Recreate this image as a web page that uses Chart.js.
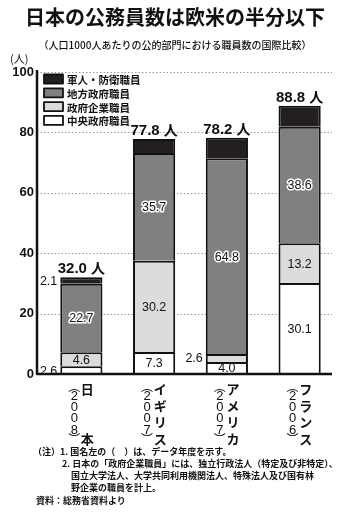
<!DOCTYPE html>
<html lang="ja">
<head>
<meta charset="utf-8">
<script src="https://cdn.jsdelivr.net/npm/chart.js@4.4.1/dist/chart.umd.min.js"></script>
<style>
body { margin: 0; background: #fff; }
#wrap { position: relative; width: 350px; height: 512px; overflow: hidden; }
canvas { position: absolute; left: 0; top: 0; }
.t { position: absolute; white-space: nowrap; font-family: "Noto Sans CJK JP", sans-serif; color: #111; }
#title { left: 0; width: 350px; top: 3px; text-align: center; font-size: 20px; font-weight: bold; line-height: 28px; }
#sub { left: 0; width: 350px; top: 38px; text-align: center; font-size: 10px; line-height: 14px; font-weight: 500; }
#unit { left: 10px; top: 50px; font-size: 11px; }
#notes { left: 33px; top: 446px; font-size: 9px; line-height: 12px; font-weight: bold; }
#notes div { white-space: nowrap; }
</style>
</head>
<body>
<div id="wrap">
  <canvas id="chart" width="350" height="512"></canvas>
  <div class="t" id="title">日本の公務員数は欧米の半分以下</div>
  <div class="t" id="sub">（人口1000人あたりの公的部門における職員数の国際比較）</div>
  <div class="t" id="unit">(人)</div>
  <div class="t" id="notes">
    <div>（注）1. 国名左の（　）は、データ年度を示す。</div>
    <div style="padding-left:29px">2. 日本の「政府企業職員」には、独立行政法人（特定及び非特定）、</div>
    <div style="padding-left:38px">国立大学法人、大学共同利用機関法人、特殊法人及び国有林</div>
    <div style="padding-left:38px">野企業の職員を計上。</div>
    <div style="padding-left:3px;margin-top:1px">資料：総務省資料より</div>
  </div>
</div>
<script>
// データ
const countries = ["日本", "イギリス", "アメリカ", "フランス"];
const years = ["2008", "2007", "2007", "2006"];
const central = [2.6, 7.3, 4.0, 30.1];
const enterprise = [4.6, 30.2, 2.6, 13.2];
const local = [22.7, 35.7, 64.8, 38.6];
const military = [2.1, 4.6, 6.8, 6.9];
const totals = [32.0, 77.8, 78.2, 88.8];
const yTicks = [0, 20, 40, 60, 80, 100];

// 数値ラベルの位置 (in = 棒の中, left = 棒の左)
const labelPos = {
    central: ["left", "in", "in", "in"],
    enterprise: ["in", "in", "left", "in"],
    local: ["in", "in", "in", "in"],
    military: ["left", null, null, null],
};

const AX_L = 37, AX_R = 332;

const extras = {
    id: "extras",
    beforeDatasetsDraw(chart) {
        const { ctx, scales: { y } } = chart;
        ctx.save();
        ctx.strokeStyle = "#9a9a9a";
        ctx.lineWidth = 1;
        ctx.setLineDash([1.5, 2]);
        yTicks.forEach(function (v) {
            if (v === 0) return;
            const py = Math.round(y.getPixelForValue(v)) + 0.5;
            ctx.beginPath();
            ctx.moveTo(AX_L, py);
            ctx.lineTo(AX_R, py);
            ctx.stroke();
        });
        ctx.restore();
    },
    afterDatasetsDraw(chart) {
        const { ctx, scales: { x, y } } = chart;
        ctx.save();

        // 数値ラベル
        chart.data.datasets.forEach(function (ds, di) {
            const meta = chart.getDatasetMeta(di);
            const pos = labelPos[ds.key];
            meta.data.forEach(function (bar, i) {
                if (!pos[i]) return;
                const txt = ds.data[i].toFixed(1);
                const cy = (bar.y + bar.base) / 2 + 1;
                ctx.font = '12.5px "Liberation Sans Narrow", "Liberation Sans", sans-serif';
                ctx.textBaseline = "middle";
                let tx = bar.x;
                if (pos[i] === "left") {
                    ctx.textAlign = "right";
                    tx = bar.x - bar.width / 2 - 3;
                } else {
                    ctx.textAlign = "center";
                }
                if (ds.key === "local") {
                    ctx.lineWidth = 3;
                    ctx.strokeStyle = "#fff";
                    ctx.lineJoin = "round";
                    ctx.strokeText(txt, tx, cy);
                }
                ctx.fillStyle = "#111";
                ctx.fillText(txt, tx, cy);
            });
        });

        // 合計
        ctx.textBaseline = "alphabetic";
        totals.forEach(function (t, i) {
            const px = x.getPixelForValue(i);
            const py = y.getPixelForValue(t) - 4;
            ctx.fillStyle = "#111";
            ctx.font = 'bold 15px "Liberation Sans", sans-serif';
            const num = t.toFixed(1);
            const wNum = ctx.measureText(num + " ").width;
            ctx.font = 'bold 14px "Noto Sans CJK JP", sans-serif';
            const wJin = ctx.measureText("人").width;
            const start = px - (wNum + wJin) / 2;
            ctx.textAlign = "left";
            ctx.font = 'bold 15px "Liberation Sans", sans-serif';
            ctx.fillText(num, start, py);
            ctx.font = 'bold 14px "Noto Sans CJK JP", sans-serif';
            ctx.fillText("人", start + wNum, py);
        });

        // 軸
        const y0 = Math.round(y.getPixelForValue(0));
        const yTop = Math.round(y.getPixelForValue(100));
        ctx.strokeStyle = "#111";
        ctx.lineWidth = 2.5;
        ctx.beginPath();
        ctx.moveTo(AX_L, yTop - 2);
        ctx.lineTo(AX_L, y0);
        ctx.lineTo(AX_R, y0);
        ctx.stroke();

        // 凡例
        const items = chart.data.datasets.slice().reverse();
        items.forEach(function (ds, i) {
            const cy = 79 + i * 13.8;
            ctx.fillStyle = ds.backgroundColor;
            ctx.fillRect(44, cy - 4.5, 19, 9);
            ctx.lineWidth = 1.8;
            ctx.strokeStyle = "#111";
            ctx.strokeRect(44, cy - 4.5, 19, 9);
            ctx.fillStyle = "#111";
            ctx.font = 'bold 10.5px "Noto Sans CJK JP", sans-serif';
            ctx.textAlign = "left";
            ctx.textBaseline = "middle";
            ctx.fillText(ds.label, 67, cy + 1);
        });

        // 国名 (縦書き)
        countries.forEach(function (name, i) {
            const px = x.getPixelForValue(i);
            ctx.fillStyle = "#111";
            ctx.textAlign = "center";
            ctx.textBaseline = "middle";
            const yearCol = ["︵"].concat(years[i].split("")).concat(["︶"]);
            yearCol.forEach(function (ch, k) {
                let cy;
                if (k === 0) cy = 386;
                else if (k === yearCol.length - 1) cy = 439;
                else cy = 396 + (k - 1) * 11.4;
                ctx.font = (k === 0 || k === yearCol.length - 1)
                    ? '12px "Noto Sans CJK JP", sans-serif'
                    : '13px "Liberation Sans", sans-serif';
                ctx.fillText(ch, px - 7, cy);
            });
            const chars = name.split("");
            ctx.font = 'bold 13px "Noto Sans CJK JP", sans-serif';
            chars.forEach(function (ch, k) {
                const cy = 389 + k * (50 / (chars.length - 1));
                ctx.fillText(ch, px + 6, cy);
            });
        });

        ctx.restore();
    },
};

new Chart(document.getElementById("chart").getContext("2d"), {
    type: "bar",
    data: {
        labels: countries,
        datasets: [
            { key: "central", label: "中央政府職員", data: central, backgroundColor: "#ffffff" },
            { key: "enterprise", label: "政府企業職員", data: enterprise, backgroundColor: "#dcdcdc" },
            { key: "local", label: "地方政府職員", data: local, backgroundColor: "#808080" },
            { key: "military", label: "軍人・防衛職員", data: military, backgroundColor: "#231f20" },
        ].map(function (d) {
            return Object.assign(d, {
                borderColor: "#111",
                borderWidth: 2,
                borderSkipped: "bottom",
                barPercentage: 0.58,
                categoryPercentage: 1,
            });
        }),
    },
    options: {
        responsive: false,
        animation: false,
        events: [],
        layout: { padding: { top: 72, right: 14, bottom: 138, left: 0 } },
        plugins: { legend: { display: false }, tooltip: { enabled: false } },
        scales: {
            x: { stacked: true, display: false },
            y: {
                stacked: true,
                min: 0,
                max: 100,
                afterBuildTicks(scale) {
                    scale.ticks = yTicks.map(function (v) { return { value: v }; });
                },
                afterFit(scale) { scale.width = 45; },
                grid: { display: false, drawTicks: false },
                border: { display: false },
                ticks: {
                    padding: 11,
                    color: "#111",
                    font: { family: '"Liberation Sans", sans-serif', size: 13, weight: "bold" },
                },
            },
        },
    },
    plugins: [extras],
});
</script>
</body>
</html>
